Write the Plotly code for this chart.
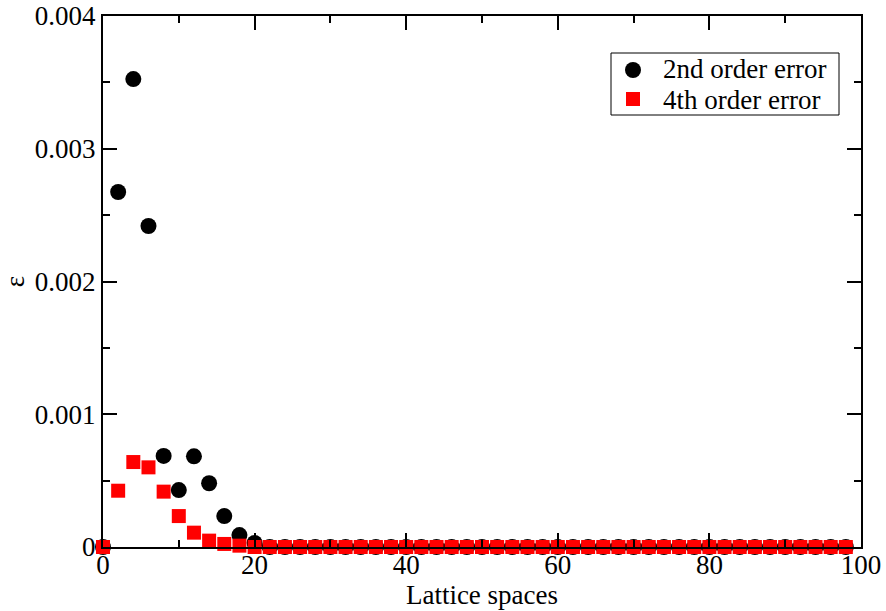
import plotly.graph_objects as go

x_vals = list(range(0, 100, 2))
err2 = [0, 0.002674, 0.003525, 0.002418, 0.000686, 0.000429, 0.000683, 0.000480,
        0.000233, 0.000090, 0.000030] + [0.0] * 39
err4 = [0, 0.000424, 0.000640, 0.000600, 0.000417, 0.000233, 0.000108, 0.000048,
        0.000023, 0.000010] + [0.0] * 40
series_names = ["2nd order error", "4th order error"]

FONT = "Liberation Serif"
FS = 27

L, R, T, B = 103, 861, 16, 547
def px(xp):
    return (xp - L) / (R - L)
def py(yp):
    return (B - yp) / (B - T)

ROW1, ROW2 = 69, 100

fig = go.Figure()
fig.add_trace(go.Scatter(x=x_vals, y=err2, mode="markers", name=series_names[0],
                         marker=dict(symbol="circle", size=16, color="black"),
                         cliponaxis=False, showlegend=False))
fig.add_trace(go.Scatter(x=x_vals, y=err4, mode="markers", name=series_names[1],
                         marker=dict(symbol="square", size=14, color="#ff0000"),
                         cliponaxis=False, showlegend=False))

axis_common = dict(showgrid=False, zeroline=False, showline=True, linecolor="black",
                   linewidth=2, mirror="ticks", ticks="inside", ticklen=14,
                   tickwidth=1.5, tickcolor="black", automargin=False,
                   tickfont=dict(family=FONT, size=FS, color="black"))

shapes = [
    dict(type="rect", xref="paper", yref="paper", x0=px(611), x1=px(839), y0=py(115), y1=py(53),
         line=dict(color="black", width=1), fillcolor="white", layer="above"),
    dict(type="circle", xref="paper", yref="paper", xsizemode="pixel", ysizemode="pixel",
         xanchor=px(633), yanchor=py(ROW1 + 1), x0=-8, x1=8, y0=-8, y1=8,
         fillcolor="black", line=dict(width=0), layer="above"),
    dict(type="rect", xref="paper", yref="paper", xsizemode="pixel", ysizemode="pixel",
         xanchor=px(633), yanchor=py(ROW2 - 1), x0=-7, x1=7, y0=-7, y1=7,
         fillcolor="#ff0000", line=dict(width=0), layer="above"),
]
annotations = [
    dict(text=series_names[0], xref="paper", yref="paper", x=px(661), y=py(ROW1),
         xanchor="left", yanchor="middle", showarrow=False,
         font=dict(family=FONT, size=FS, color="black")),
    dict(text=series_names[1], xref="paper", yref="paper", x=px(661), y=py(ROW2),
         xanchor="left", yanchor="middle", showarrow=False,
         font=dict(family=FONT, size=FS, color="black")),
]

fig.update_layout(
    width=886, height=611,
    margin=dict(l=L, r=886 - R, t=T, b=611 - B),
    paper_bgcolor="white", plot_bgcolor="white",
    font=dict(family=FONT, size=FS, color="black"),
    xaxis=dict(range=[0, 100], tickvals=[0, 20, 40, 60, 80, 100],
               ticklabelstandoff=-7,
               minor=dict(dtick=10, ticklen=7, ticks="inside", tickcolor="black", tickwidth=1.5),
               title=dict(text="Lattice spaces", font=dict(family=FONT, size=FS), standoff=0),
               **axis_common),
    yaxis=dict(range=[0, 0.004], tickvals=[0, 0.001, 0.002, 0.003, 0.004],
               ticktext=["0", "0.001", "0.002", "0.003", "0.004"],
               minor=dict(dtick=0.0005, ticklen=7, ticks="inside", tickcolor="black", tickwidth=1.5),
               title=dict(text="ε", font=dict(family=FONT, size=FS), standoff=6),
               **axis_common),
    showlegend=False,
    shapes=shapes,
    annotations=annotations,
)

fig.write_html("out.html")
